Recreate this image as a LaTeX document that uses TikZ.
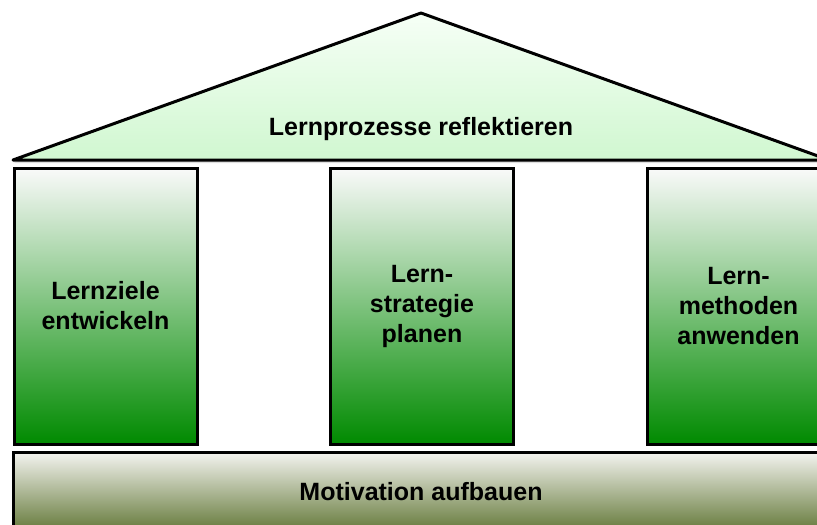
\documentclass[tikz,border=0pt]{standalone}
\usepackage{fontspec}
\setmainfont{Liberation Sans}
\usetikzlibrary{shadows}

\definecolor{roofTop}{HTML}{F6FFF6}
\definecolor{roofBot}{HTML}{D0F7D0}
\definecolor{pillarTop}{HTML}{FAFAFA}
\definecolor{pillarBot}{HTML}{008A00}
\definecolor{baseTop}{HTML}{F4F4F0}
\definecolor{baseBot}{HTML}{637838}

\tikzset{
  house/.style = {draw, line width = 3pt, align = center,
                  font = \fontsize{25}{30}\selectfont\bfseries},
  pillar/.style = {house, top color = pillarTop, bottom color = pillarBot,
                   minimum width = 183pt, minimum height = 276pt,
                   drop shadow = {opacity = 0.25, shadow xshift = 1pt, shadow yshift = -2pt}},
  basebar/.style = {house, top color = baseTop, bottom color = baseBot,
                    minimum width = 816pt, minimum height = 80pt}
}

\begin{document}
\begin{tikzpicture}[x = 1pt, y = -1pt]
	\useasboundingbox (0,0) rectangle (817,525);
	\clip (0,0) rectangle (817,525);

	\def\xL{13};
	\def\xR{829};
	\def\yBase{160};
	\def\yTop{13};
	\def\xTop{421};

	% roof
	\begin{scope}
		\draw [line width = 3pt, line join = round, top color = roofTop, bottom color = roofBot,
		       drop shadow = {opacity = 0.25, shadow xshift = 0pt, shadow yshift = -3pt}]
			(\xL,\yBase) -- (\xTop,\yTop) -- (\xR,\yBase) -- cycle;
		\node [house, draw = none] (roof) at (\xTop,129) {Lernprozesse reflektieren};
	\end{scope}

	% pillars
	\begin{scope}
		\node [pillar] (ziele) at (105.5,306) {Lernziele\\entwickeln};
		\node [pillar] (strategie) at (422,306) {Lern-\\strategie\\planen};
		\node [pillar] (methoden) at (738.5,306) {Lern-\\methoden\\anwenden};
	\end{scope}

	% foundation
	\begin{scope}
		\node [basebar] (motivation) at (421,492) {Motivation aufbauen};
	\end{scope}
\end{tikzpicture}
\end{document}
